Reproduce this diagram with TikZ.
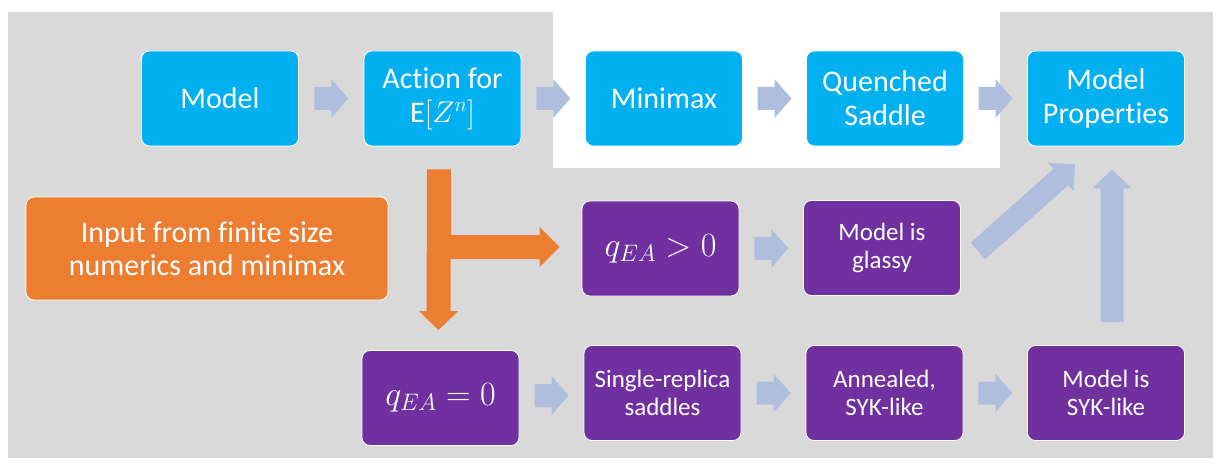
\RequirePackage{fix-cm}
\documentclass[tikz,border=0pt]{standalone}
\usepackage{fontspec}
\setmainfont{Carlito}[Ligatures={NoCommon},RawFeature={-calt;-clig;-dlig}]
\usetikzlibrary{calc}
\definecolor{bgc}{RGB}{217,217,217}
\definecolor{cyanc}{RGB}{0,176,240}
\definecolor{purplec}{RGB}{112,48,160}
\definecolor{orangec}{RGB}{237,125,49}
\definecolor{arrowc}{RGB}{176,190,222}
\newcommand{\blockarr}[6]{%
  \coordinate (ba-h) at ($(#3)!#6!(#2)$);
  \fill[#1] ($(#2)!#4!90:(#3)$) -- ($(ba-h)!#4!90:(#3)$) -- ($(ba-h)!#5!90:(#3)$) -- (#3)
    -- ($(ba-h)!#5!-90:(#3)$) -- ($(ba-h)!#4!-90:(#3)$) -- ($(#2)!#4!-90:(#3)$) -- cycle;
}
\newcommand{\harr}[2]{%
  \coordinate (ha-t) at ($(#1.east)!0.5!(#2.west)+(-17,0)$);
  \coordinate (ha-p) at ($(#1.east)!0.5!(#2.west)+(17,0)$);
  \blockarr{arrowc}{ha-t}{ha-p}{11.5pt}{19.5pt}{17pt}
}
\begin{document}
\begin{tikzpicture}[x=1pt,y=-1pt,
  box/.style={rounded corners=8pt, draw=white, line width=0.8pt, text=white,
    minimum width=157pt, minimum height=95pt, inner sep=0pt, align=center},
  bigbox/.style={box, fill=cyanc, font=\fontsize{30}{34}\selectfont},
  pbox/.style={box, fill=purplec, font=\fontsize{25}{28}\selectfont},
  mbox/.style={box, fill=purplec, font=\fontsize{34}{38}\selectfont},
  obox/.style={box, fill=orangec, minimum width=362pt, minimum height=103pt,
    font=\fontsize{30}{33}\selectfont}]
\useasboundingbox (0,0) rectangle (1224,468);
\fill[white] (0,0) rectangle (1224,468);
\fill[bgc] (8,12) rectangle (1213,458);
\fill[white] (553,0) rectangle (1000,168);

\node[bigbox] (model) at (220,98.5) {Model};
\node[bigbox] (action) at (442.5,98.5) {Act\kern0pt ion for\\E$[Z^n]$};
\node[bigbox] (minimax) at (664,98.5) {Minimax};
\node[bigbox] (quenched) at (885,98.5) {Quenched\\Saddle};
\node[bigbox] (props) at (1106,98.5) {Model\\Propert\kern0pt ies};

\node[obox] (input) at (207,248.5) {Input from finite size\\numerics and minimax};
\node[mbox] (qpos) at (660.5,248.5) {$q_{EA}>0$};
\node[pbox] (glassy) at (882,248) {Model is\\glassy};

\node[mbox] (q0) at (440.5,398) {$q_{EA}=0$};
\node[pbox] (single) at (662.5,393) {Single-replica\\saddles};
\node[pbox] (annealed) at (884.5,393) {Annealed,\\SYK-like};
\node[pbox] (syk) at (1106,393) {Model is\\SYK-like};

\harr{model}{action}
\harr{action}{minimax}
\harr{minimax}{quenched}
\harr{quenched}{props}
\harr{qpos}{glassy}
\harr{q0}{single}
\harr{single}{annealed}
\harr{annealed}{syk}

\coordinate (ov1) at ($(action.south)+(-3.5,23)$);
\coordinate (ov2) at ($(q0.north)+(-2,-20)$);
\blockarr{orangec}{ov1}{ov2}{12pt}{19.5pt}{19pt}
\coordinate (oh1) at ($(ov1 |- qpos.west)+(0,-1.5)$);
\coordinate (oh2) at ($(qpos.west)+(-22,-1.5)$);
\blockarr{orangec}{oh1}{oh2}{12pt}{20pt}{20pt}

\coordinate (dg1) at ($(glassy.east)+(17,3)$);
\coordinate (dg2) at ($(props.south)+(-31,18)$);
\blockarr{arrowc}{dg1}{dg2}{11pt}{19pt}{19pt}

\coordinate (vs1) at ($(syk.north)+(6,-23)$);
\coordinate (vs2) at ($(props.south)+(6,23)$);
\blockarr{arrowc}{vs1}{vs2}{11.5pt}{19.5pt}{19pt}
\end{tikzpicture}
\end{document}
